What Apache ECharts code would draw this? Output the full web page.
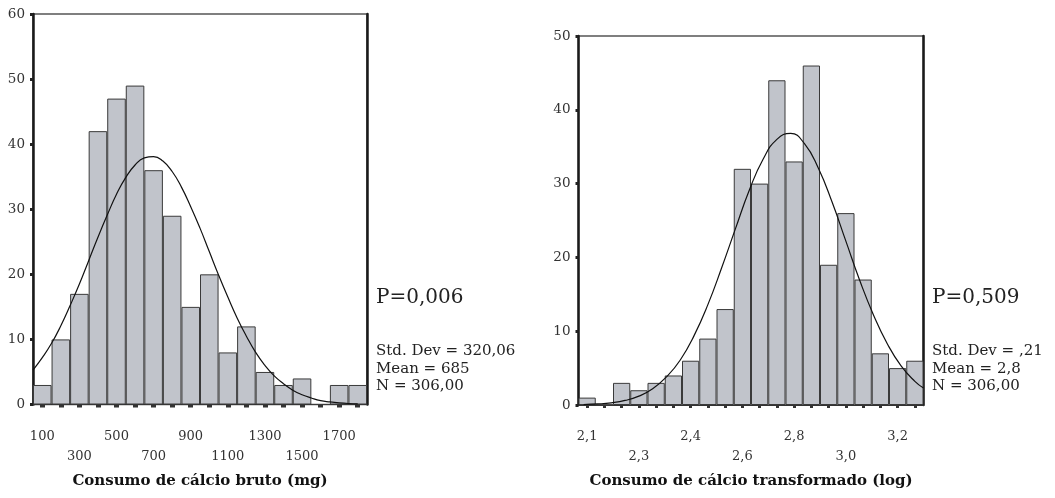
<!DOCTYPE html>
<html>
<head>
<meta charset="utf-8">
<script src="https://cdn.jsdelivr.net/npm/echarts@6/dist/echarts.min.js"></script>
<style>
html,body{margin:0;padding:0;background:#fff;}
#chart{width:1055px;height:498px;}
</style>
</head>
<body>
<div id="chart"></div>
<script>
// ---------- Left histogram: raw calcium intake (mg) ----------
const leftBins = ['100','200','300','400','500','600','700','800','900','1000','1100','1200','1300','1400','1500','1600','1700','1800'];
const leftCounts = [3,10,17,42,47,49,36,29,15,20,8,12,5,3,4,0,3,3];
const leftTickLabels = ['100','','300','','500','','700','','900','','1100','','1300','','1500','','1700',''];
const leftYTicks = [0,10,20,30,40,50,60];
const leftCurve = [
  [50,5.3],[100,7.2],[150,9.4],[200,12.1],[250,15.2],[300,18.5],[350,22.1],[400,25.7],
  [450,29.1],[500,32.3],[550,34.9],[600,36.8],[650,37.9],[700,38.1],[750,37.4],[800,35.8],
  [850,33.4],[900,30.4],[950,27.1],[1000,23.5],[1050,19.9],[1100,16.5],[1150,13.3],[1200,10.5],
  [1250,8.0],[1300,6.0],[1350,4.4],[1400,3.2],[1450,2.2],[1500,1.5],[1550,1.0],[1600,0.6],
  [1650,0.4],[1700,0.25],[1750,0.15],[1800,0.1]
];
const leftStats = ['P=0,006','Std. Dev = 320,06','Mean = 685','N = 306,00'];
const leftTitle = 'Consumo de cálcio bruto (mg)';

// ---------- Right histogram: log-transformed intake ----------
const rightBins = ['2.0625','2.125','2.1875','2.25','2.3125','2.375','2.4375','2.5','2.5625','2.625',
                   '2.6875','2.75','2.8125','2.875','2.9375','3.0','3.0625','3.125','3.1875','3.25'];
const rightCounts = [1,0,3,2,3,4,6,9,13,32,30,44,33,46,19,26,17,7,5,6];
const rightTickLabels = ['2,1','','','2,3','','','2,4','','','2,6','','','2,8','','','3,0','','','3,2',''];
const rightYTicks = [0,10,20,30,40,50];
const rightCurve = [
  [2.05,0.06],[2.10,0.14],[2.15,0.3],[2.20,0.62],[2.25,1.2],[2.30,2.2],[2.35,3.8],[2.40,6.1],
  [2.45,9.4],[2.50,13.6],[2.55,18.6],[2.60,23.9],[2.65,29.1],[2.70,33.3],[2.75,36.0],[2.80,36.8],
  [2.85,35.4],[2.90,32.1],[2.95,27.5],[3.00,22.2],[3.05,16.9],[3.10,12.2],[3.15,8.3],[3.20,5.3],
  [3.25,3.2],[3.28125,2.3]
];
const rightStats = ['P=0,509','Std. Dev = ,21','Mean = 2,8','N = 306,00'];
const rightTitle = 'Consumo de cálcio transformado (log)';

// ---------- layout ----------
const SERIF = 'DejaVu Serif';
const L = {left:33, top:14, width:334, height:390.5};
const R = {left:578.5, top:36, width:345, height:369};

function rowFormatter(labels){
  const shown = [];
  labels.forEach((t,i)=>{ if(t) shown.push(i); });
  return function(v, idx){
    const t = labels[idx];
    if(!t) return '';
    return shown.indexOf(idx) % 2 === 0 ? t : '\n' + t;
  };
}

function catAxis(grid, bins, labels, tickW, tickLen){
  return {
    type:'category', gridIndex:grid, data:bins, boundaryGap:true,
    axisLine:{show:true, lineStyle:{color:'#333', width:1}},
    axisTick:{show:true, interval:0, alignWithLabel:true, length:tickLen, lineStyle:{color:'#333', width:tickW}},
    axisLabel:{interval:0, margin:22, lineHeight:20, fontSize:13, fontFamily:SERIF, color:'#333',
               formatter:rowFormatter(labels)},
    splitLine:{show:false}
  };
}
function valXAxis(grid, min, max){
  return {type:'value', gridIndex:grid, min:min, max:max, show:false};
}
function yAxisMain(grid, ticks){
  return {
    type:'value', gridIndex:grid, min:ticks[0], max:ticks[ticks.length-1], interval:ticks[1]-ticks[0],
    axisLine:{show:true, lineStyle:{color:'#1a1a1a', width:2.5}},
    axisTick:{show:true, length:3, lineStyle:{color:'#222', width:3}},
    axisLabel:{margin:8, fontSize:13.5, fontFamily:SERIF, color:'#333'},
    splitLine:{show:false}
  };
}
function yAxisBorder(grid, ticks){
  return {
    type:'value', gridIndex:grid, position:'right', min:ticks[0], max:ticks[ticks.length-1],
    axisLine:{show:true, lineStyle:{color:'#1a1a1a', width:2.5}},
    axisTick:{show:false}, axisLabel:{show:false}, splitLine:{show:false}
  };
}
function statTexts(x, stats){
  const els = [{
    type:'text', left:x, top:288, style:{text:stats[0], font:'20px "'+SERIF+'"', fill:'#222'}
  }];
  for(let i=1;i<stats.length;i++){
    els.push({type:'text', left:x, top:344 + (i-1)*17.5,
      style:{text:stats[i], font:'15px "'+SERIF+'"', fill:'#222'}});
  }
  return els;
}

const barStyle = {color:'#c1c4cb', borderColor:'#3a3a3a', borderWidth:1};

const option = {
  animation:false,
  backgroundColor:'#fff',
  grid:[
    Object.assign({show:true, borderColor:'#555', borderWidth:1.5, backgroundColor:'transparent'}, L),
    Object.assign({show:true, borderColor:'#555', borderWidth:1.5, backgroundColor:'transparent'}, R)
  ],
  xAxis:[
    catAxis(0, leftBins, leftTickLabels, 5, 3),
    valXAxis(0, 50, 1850),
    catAxis(1, rightBins, rightTickLabels, 3, 3),
    valXAxis(1, 2.03125, 3.28125)
  ],
  yAxis:[
    yAxisMain(0, leftYTicks),
    yAxisBorder(0, leftYTicks),
    yAxisMain(1, rightYTicks),
    yAxisBorder(1, rightYTicks)
  ],
  series:[
    {type:'bar', xAxisIndex:0, yAxisIndex:0, data:leftCounts, barWidth:'100%', barGap:'0%', itemStyle:barStyle, z:2},
    {type:'line', xAxisIndex:1, yAxisIndex:0, data:leftCurve, smooth:true, showSymbol:false,
     lineStyle:{color:'#111', width:1.2}, z:3},
    {type:'bar', xAxisIndex:2, yAxisIndex:2, data:rightCounts, barWidth:'100%', barGap:'0%', itemStyle:barStyle, z:2},
    {type:'line', xAxisIndex:3, yAxisIndex:2, data:rightCurve, smooth:true, showSymbol:false,
     lineStyle:{color:'#111', width:1.2}, z:3}
  ],
  graphic:[
    {type:'text', x:L.left + L.width/2, y:481, style:{text:leftTitle, font:'bold 15px "'+SERIF+'"', fill:'#111', align:'center', verticalAlign:'middle'}},
    {type:'text', x:R.left + R.width/2, y:481, style:{text:rightTitle, font:'bold 15px "'+SERIF+'"', fill:'#111', align:'center', verticalAlign:'middle'}}
  ].concat(statTexts(376, leftStats), statTexts(932, rightStats))
};

const chart = echarts.init(document.getElementById('chart'), null, {renderer:'canvas'});
chart.setOption(option);
</script>
</body>
</html>
